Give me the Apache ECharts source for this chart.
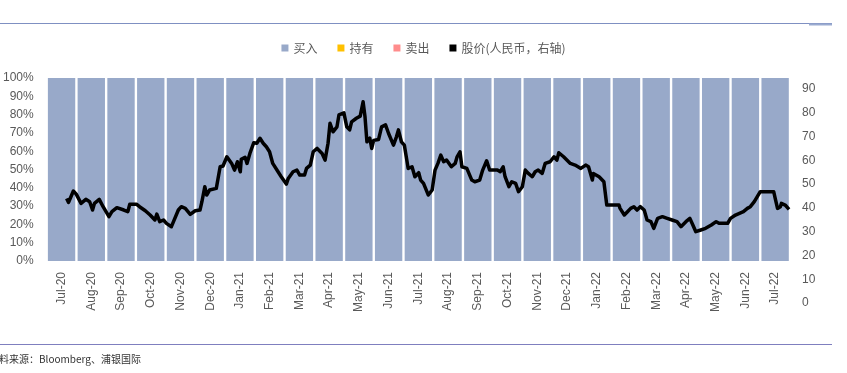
<!DOCTYPE html>
<html>
<head>
<meta charset="utf-8">
<script src="https://cdn.jsdelivr.net/npm/echarts@6/dist/echarts.min.js"></script>
<style>
html,body{margin:0;padding:0;background:#fff;}
#chart{width:847px;height:373px;}
</style>
</head>
<body>
<div id="chart"></div>
<script>
// Month categories (bars)
const categories = ['Jul-20','Aug-20','Sep-20','Oct-20','Nov-20','Dec-20','Jan-21','Feb-21','Mar-21','Apr-21','May-21','Jun-21','Jul-21','Aug-21','Sep-21','Oct-21','Nov-21','Dec-21','Jan-22','Feb-22','Mar-22','Apr-22','May-22','Jun-22','Jul-22'];
// Rating shares (fraction)
const buyShare  = [1,1,1,1,1,1,1,1,1,1,1,1,1,1,1,1,1,1,1,1,1,1,1,1,1];
const holdShare = [0,0,0,0,0,0,0,0,0,0,0,0,0,0,0,0,0,0,0,0,0,0,0,0,0];
const sellShare = [0,0,0,0,0,0,0,0,0,0,0,0,0,0,0,0,0,0,0,0,0,0,0,0,0];
// Share price (RMB, right axis)
const priceDates = [
'2020-07-22','2020-07-24','2020-07-29','2020-08-01','2020-08-06','2020-08-11','2020-08-15','2020-08-18','2020-08-20','2020-08-25','2020-08-29',
'2020-09-04','2020-09-07','2020-09-12','2020-09-19','2020-09-23','2020-09-25','2020-10-02','2020-10-05','2020-10-11','2020-10-16','2020-10-21','2020-10-23','2020-10-26','2020-10-30',
'2020-11-02','2020-11-07','2020-11-09','2020-11-14','2020-11-17','2020-11-21','2020-11-26','2020-12-01','2020-12-06','2020-12-08','2020-12-11','2020-12-13','2020-12-16','2020-12-23','2020-12-27','2020-12-30',
'2021-01-03','2021-01-08','2021-01-11','2021-01-14','2021-01-17','2021-01-18','2021-01-22','2021-01-24','2021-01-27','2021-01-31',
'2021-02-03','2021-02-06','2021-02-09','2021-02-12','2021-02-15','2021-02-18','2021-02-23','2021-02-26',
'2021-03-03','2021-03-05','2021-03-10','2021-03-14','2021-03-17','2021-03-22','2021-03-24','2021-03-28','2021-03-31',
'2021-04-04','2021-04-09','2021-04-12','2021-04-15','2021-04-17','2021-04-20','2021-04-24','2021-04-26',
'2021-05-01','2021-05-04','2021-05-07','2021-05-09','2021-05-14','2021-05-18','2021-05-21','2021-05-23','2021-05-25','2021-05-28','2021-05-30',
'2021-06-01','2021-06-06','2021-06-09','2021-06-13','2021-06-16','2021-06-21','2021-06-24','2021-06-26','2021-06-29',
'2021-07-02','2021-07-04','2021-07-06','2021-07-10','2021-07-13','2021-07-17','2021-07-19','2021-07-22','2021-07-27','2021-07-31',
'2021-08-03','2021-08-06','2021-08-09','2021-08-12','2021-08-15','2021-08-20','2021-08-24','2021-08-26','2021-08-29','2021-08-31',
'2021-09-05','2021-09-10','2021-09-13','2021-09-18','2021-09-21','2021-09-25','2021-09-28',
'2021-10-06','2021-10-09','2021-10-12','2021-10-14','2021-10-18','2021-10-21','2021-10-25','2021-10-28',
'2021-11-01','2021-11-04','2021-11-07','2021-11-11','2021-11-14','2021-11-17','2021-11-21','2021-11-24','2021-11-29',
'2021-12-03','2021-12-06','2021-12-08','2021-12-13','2021-12-20','2021-12-25','2021-12-31',
'2022-01-05','2022-01-08','2022-01-12','2022-01-13','2022-01-19','2022-01-24','2022-01-27',
'2022-02-03','2022-02-08','2022-02-09','2022-02-13','2022-02-16','2022-02-19','2022-02-22','2022-02-25','2022-02-28',
'2022-03-04','2022-03-07','2022-03-11','2022-03-14','2022-03-18','2022-03-23','2022-03-28',
'2022-04-02','2022-04-07','2022-04-11','2022-04-16','2022-04-20','2022-04-23','2022-04-26',
'2022-05-01','2022-05-06','2022-05-12','2022-05-17','2022-05-20','2022-05-24','2022-05-29',
'2022-06-01','2022-06-06','2022-06-10','2022-06-14','2022-06-18','2022-06-21','2022-06-25','2022-06-28',
'2022-07-01','2022-07-08','2022-07-15','2022-07-17','2022-07-19','2022-07-22','2022-07-23','2022-07-27','2022-07-31'
];
const priceValues = [
44.0,42.3,47.1,45.8,41.9,43.6,42.6,39.1,41.9,43.6,40.5,
36.3,38.4,40.1,39.1,38.4,41.5,41.5,40.5,38.8,37.0,34.9,37.4,34.2,34.9,
33.5,32.1,32.8,39.1,40.5,39.8,37.3,38.8,39.1,42.6,48.9,45.4,47.5,48.2,57.3,57.6,
61.5,58.7,55.9,59.4,55.2,60.4,61.3,58.7,62.9,67.4,
67.2,69.3,67.2,65.7,63.6,58.7,55.2,53.1,
50.0,52.4,55.2,55.9,53.8,53.8,56.6,58.0,63.6,
65.0,62.9,60.1,67.2,75.6,72.0,74.1,79.1,
80.0,74.1,72.8,76.2,77.7,78.6,84.6,78.3,67.8,69.3,65.0,
68.4,68.8,74.1,74.9,71.4,66.4,69.9,72.8,67.8,
66.4,61.5,56.6,57.3,53.1,54.8,51.7,50.3,45.4,47.5,
55.9,58.7,62.2,59.4,60.1,57.3,58.7,61.5,63.6,57.3,
56.6,51.7,51.0,51.7,55.9,59.8,55.9,
55.9,55.2,57.3,53.1,48.9,51.0,50.3,46.8,
48.9,55.9,54.5,53.1,55.2,55.9,54.5,58.7,59.4,
61.5,60.1,63.2,61.5,58.7,58.0,56.6,
58.0,57.3,51.7,54.5,53.1,51.0,41.2,
41.2,41.2,39.8,37.0,38.4,39.8,40.5,39.1,40.5,
39.1,34.9,34.2,31.4,35.6,36.3,35.6,
34.9,34.2,32.1,34.2,35.6,32.8,30.0,
30.7,31.4,32.8,34.2,33.5,33.5,33.5,
35.6,37.0,37.7,38.4,39.8,40.5,42.6,44.7,
46.8,46.8,46.8,43.3,39.8,40.5,41.9,41.2,39.4
];
const leftTicks = [0,0.1,0.2,0.3,0.4,0.5,0.6,0.7,0.8,0.9,1];
const rightTicks = [0,10,20,30,40,50,60,70,80,90];

// convert a date to a fractional month index starting at Jul-2020
function monthPos(s){
  const [y,m,d] = s.split('-').map(Number);
  const dim = new Date(y, m, 0).getDate();
  return (y-2020)*12 + (m-7) + (d-1)/dim;
}
const lineData = priceDates.map((d,i)=>[monthPos(d), priceValues[i]]);

const GL = 46.5, GR = 57;
const txt = '#595959';
const chart = echarts.init(document.getElementById('chart'), null, {renderer:'canvas'});
chart.setOption({
  animation:false,
  backgroundColor:'#ffffff',
  textStyle:{fontFamily:'"Noto Sans CJK SC","Liberation Sans",sans-serif'},
  legend:{
    top:37, left:'center',
    itemWidth:7, itemHeight:7, itemGap:20,
    textStyle:{color:txt, fontSize:12, fontFamily:'"Noto Sans CJK SC",sans-serif'},
    data:[{name:'买入',icon:'rect'},{name:'持有',icon:'rect'},{name:'卖出',icon:'rect'},{name:'股价(人民币，右轴)',icon:'rect'}]
  },
  grid:[
    {left:GL, right:GR, top:78, bottom:112, containLabel:false},
    {left:GL, right:GR, top:89, bottom:70, containLabel:false}
  ],
  xAxis:[
    {type:'category', gridIndex:0, data:categories,
     axisLine:{show:false}, axisTick:{show:false},
     axisLabel:{rotate:90, interval:0, color:txt, fontSize:12, margin:11, fontFamily:'"Liberation Sans",sans-serif'}},
    {type:'value', gridIndex:1, min:0, max:categories.length, show:false}
  ],
  yAxis:[
    {type:'value', gridIndex:0, min:0, max:1, interval:0.1,
     axisLine:{show:false}, axisTick:{show:false}, splitLine:{show:false},
     axisLabel:{color:txt, fontSize:12, margin:13, fontFamily:'"Liberation Sans",sans-serif',
       formatter:v=>Math.round(v*100)+'%'}},
    {type:'value', gridIndex:1, position:'right', min:0, max:90, interval:10,
     axisLine:{show:false}, axisTick:{show:false}, splitLine:{show:false},
     axisLabel:{color:txt, fontSize:12, margin:12, fontFamily:'"Liberation Sans",sans-serif'}}
  ],
  series:[
    {name:'买入', type:'bar', stack:'r', xAxisIndex:0, yAxisIndex:0, data:buyShare,
     barCategoryGap:'8%', itemStyle:{color:'#98A9C9'}},
    {name:'持有', type:'bar', stack:'r', xAxisIndex:0, yAxisIndex:0, data:holdShare,
     itemStyle:{color:'#FFC000'}},
    {name:'卖出', type:'bar', stack:'r', xAxisIndex:0, yAxisIndex:0, data:sellShare,
     itemStyle:{color:'#FF8C8C'}},
    {name:'股价(人民币，右轴)', type:'line', xAxisIndex:1, yAxisIndex:1, data:lineData,
     symbol:'none', smooth:false, itemStyle:{color:'#000000'},
     lineStyle:{color:'#000000', width:3.5, join:'round'}}
  ],
  graphic:[
    {type:'line', shape:{x1:0,y1:23.5,x2:832,y2:23.5}, style:{stroke:'#7F90C2', lineWidth:1}},
    {type:'line', shape:{x1:809,y1:24.5,x2:832,y2:24.5}, style:{stroke:'#9AABD0', lineWidth:2}},
    {type:'line', shape:{x1:0,y1:344.5,x2:832,y2:344.5}, style:{stroke:'#7F7FBF', lineWidth:1}},
    {type:'text', left:-11, top:354, style:{text:'资料来源：Bloomberg、浦银国际', fill:'#333333', fontSize:10, fontFamily:'"Noto Sans CJK SC",sans-serif'}}
  ]
});
</script>
</body>
</html>
